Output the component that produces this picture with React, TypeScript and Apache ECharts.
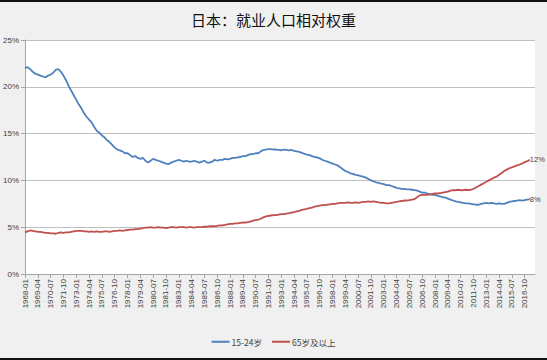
import React, { useEffect, useRef } from "react";
import * as echarts from "echarts";

const TITLE = "日本：就业人口相对权重";
const SERIES_NAMES = ["15-24岁", "65岁及以上"];
const Y_TICKS = [0, 5, 10, 15, 20, 25];

// quarterly categories 1968-01 .. 2017-10
const START_YEAR = 1968;
const QUARTER_MONTHS = ["01", "04", "07", "10"];
const N_CATEGORIES = 200;

// share of employed persons (%), quarterly readings
const youth = [
  22.0, 22.1, 21.9, 21.6, 21.4, 21.3, 21.2, 21.1, 21.0, 21.2,
  21.3, 21.5, 21.8, 21.9, 21.6, 21.2, 20.7, 20.1, 19.6, 19.1,
  18.6, 18.1, 17.7, 17.2, 16.8, 16.5, 16.2, 15.7, 15.3, 15.1,
  14.8, 14.6, 14.3, 14.1, 13.8, 13.5, 13.3, 13.2, 13.1, 12.9,
  12.9, 12.7, 12.5, 12.6, 12.4, 12.3, 12.4, 12.1, 11.9, 12.1,
  12.3, 12.2, 12.1, 12.0, 11.9, 11.8, 11.75, 11.9, 12.0, 12.1,
  12.2, 12.1, 12.0, 12.1, 12.0, 12.0, 12.1, 12.0, 11.9, 12.0,
  12.1, 11.9, 11.9, 12.0, 12.2, 12.1, 12.2, 12.2, 12.3, 12.25,
  12.3, 12.4, 12.4, 12.45, 12.5, 12.6, 12.6, 12.7, 12.8, 12.8,
  12.9, 12.9, 13.1, 13.25, 13.3, 13.35, 13.35, 13.3, 13.3, 13.25,
  13.2, 13.3, 13.25, 13.2, 13.25, 13.15, 13.1, 13.05, 12.95, 12.85,
  12.75, 12.7, 12.6, 12.5, 12.45, 12.35, 12.2, 12.1, 12.0, 11.9,
  11.8, 11.7, 11.6, 11.4, 11.2, 11.0, 10.9, 10.75, 10.7, 10.6,
  10.55, 10.45, 10.4, 10.3, 10.15, 10.0, 9.9, 9.8, 9.75, 9.65,
  9.6, 9.5, 9.5, 9.4, 9.3, 9.2, 9.15, 9.1, 9.1, 9.05,
  9.05, 9.0, 8.95, 8.9, 8.8, 8.7, 8.7, 8.6, 8.5, 8.45,
  8.45, 8.35, 8.3, 8.2, 8.15, 8.05, 7.95, 7.85, 7.75, 7.7,
  7.65, 7.6, 7.55, 7.55, 7.5, 7.45, 7.4, 7.4, 7.5, 7.55,
  7.6, 7.55, 7.6, 7.55, 7.5, 7.55, 7.5, 7.5, 7.6, 7.7,
  7.75, 7.8, 7.85, 7.9, 7.85, 7.9, 7.95, 8.0,
];

const elderly = [
  4.45, 4.55, 4.65, 4.6, 4.55, 4.5, 4.5, 4.45, 4.4, 4.4,
  4.35, 4.35, 4.3, 4.4, 4.45, 4.4, 4.45, 4.45, 4.5, 4.55,
  4.6, 4.6, 4.6, 4.55, 4.55, 4.5, 4.55, 4.5, 4.55, 4.5,
  4.5, 4.55, 4.55, 4.5, 4.55, 4.6, 4.6, 4.65, 4.6, 4.65,
  4.7, 4.75, 4.75, 4.8, 4.8, 4.85, 4.9, 4.95, 4.95, 5.0,
  4.95, 4.95, 5.0, 4.95, 4.95, 4.9, 4.95, 5.0, 5.0, 4.95,
  5.0, 5.0, 5.0, 4.95, 5.0, 5.0, 4.95, 5.0, 5.0, 5.0,
  5.05, 5.05, 5.1, 5.1, 5.1, 5.15, 5.2, 5.2, 5.25, 5.3,
  5.35, 5.35, 5.4, 5.4, 5.45, 5.5, 5.5, 5.55, 5.6, 5.7,
  5.75, 5.8, 5.9, 6.05, 6.15, 6.2, 6.25, 6.3, 6.3, 6.35,
  6.4, 6.4, 6.45, 6.5, 6.55, 6.6, 6.7, 6.75, 6.85, 6.9,
  6.95, 7.05, 7.1, 7.2, 7.25, 7.3, 7.35, 7.35, 7.4, 7.45,
  7.5, 7.5, 7.55, 7.6, 7.6, 7.6, 7.65, 7.6, 7.6, 7.65,
  7.6, 7.65, 7.7, 7.7, 7.75, 7.7, 7.75, 7.7, 7.65, 7.6,
  7.6, 7.55, 7.55, 7.6, 7.65, 7.7, 7.75, 7.8, 7.85, 7.85,
  7.9, 7.95, 8.0, 8.2, 8.4, 8.45, 8.45, 8.45, 8.5, 8.55,
  8.6, 8.6, 8.65, 8.7, 8.75, 8.8, 8.9, 8.95, 8.95, 9.0,
  8.95, 8.95, 9.0, 8.95, 9.0, 9.1, 9.25, 9.4, 9.55, 9.7,
  9.85, 10.0, 10.15, 10.3, 10.4, 10.6, 10.8, 11.0, 11.15, 11.3,
  11.4, 11.5, 11.6, 11.7, 11.8, 11.95, 12.05, 12.2,
];
const END_LABELS = ["8%", "12%"];

const COLORS = ["#4F81BD", "#C0504D"];

const categories: string[] = [];
for (let i = 0; i < N_CATEGORIES; i++) {
  const y = START_YEAR + Math.floor(i / 4);
  categories.push(`${y}-${QUARTER_MONTHS[i % 4]}`);
}

export default function App() {
  const ref = useRef<HTMLDivElement>(null);
  useEffect(() => {
    if (!ref.current) return;
    const chart = echarts.init(ref.current, null, { renderer: "svg" });
    const font = "Liberation Sans, Arial, 'Noto Sans CJK SC', sans-serif";
    const endLabel = (text: string) => ({
      show: true,
      distance: 0,
      formatter: text,
      color: "#404040",
      fontSize: 7.5,
      fontFamily: font,
    });
    chart.setOption({
      animation: false,
      backgroundColor: "#f0f0f0",
      textStyle: { fontFamily: font },
      title: {
        text: TITLE,
        left: "center",
        top: 7,
        textStyle: {
          fontFamily: "'Noto Sans CJK SC', sans-serif",
          fontSize: 15,
          fontWeight: "normal",
          color: "#111",
        },
      },
      graphic: [
        { type: "rect", shape: { x: 0, y: 0, width: 547, height: 2 }, style: { fill: "#111" } },
        { type: "rect", shape: { x: 0, y: 358, width: 547, height: 2 }, style: { fill: "#111" } },
      ],
      legend: {
        bottom: 9,
        left: "center",
        icon: "rect",
        itemWidth: 18,
        itemHeight: 2,
        itemGap: 10,
        textStyle: {
          fontSize: 8.5,
          color: "#404040",
          padding: [0, 0, 0, -3],
          fontFamily: "'Noto Sans CJK SC', sans-serif",
        },
        data: SERIES_NAMES,
      },
      grid: {
        left: 25,
        top: 40,
        right: 12,
        bottom: 86,
        show: true,
        backgroundColor: "#ffffff",
        borderWidth: 0,
      },
      xAxis: {
        type: "category",
        data: categories,
        boundaryGap: false,
        axisLine: { lineStyle: { color: "#a6a6a6", width: 1 } },
        axisTick: { show: true, interval: 4, length: 4, lineStyle: { color: "#a6a6a6" } },
        axisLabel: {
          interval: 4,
          rotate: 90,
          fontSize: 8,
          color: "#404040",
          margin: 5,
          fontFamily: font,
        },
        splitLine: { show: false },
      },
      yAxis: {
        type: "value",
        min: 0,
        max: 25,
        interval: 5,
        axisLine: { show: true, lineStyle: { color: "#a6a6a6", width: 1 } },
        axisTick: { show: true, length: 4, lineStyle: { color: "#a6a6a6" } },
        axisLabel: {
          formatter: (v: number) => (Y_TICKS.includes(v) ? `${v}%` : ""),
          fontSize: 8,
          color: "#404040",
          margin: 6,
          fontFamily: font,
        },
        splitLine: { lineStyle: { color: "#bfbfbf", width: 1 } },
      },
      series: [
        {
          name: SERIES_NAMES[0],
          type: "line",
          data: youth,
          symbol: "none",
          endLabel: endLabel(END_LABELS[0]),
          lineStyle: { color: COLORS[0], width: 1.8 },
          itemStyle: { color: COLORS[0] },
        },
        {
          name: SERIES_NAMES[1],
          type: "line",
          data: elderly,
          symbol: "none",
          endLabel: endLabel(END_LABELS[1]),
          lineStyle: { color: COLORS[1], width: 1.8 },
          itemStyle: { color: COLORS[1] },
        },
      ],
    });
    return () => chart.dispose();
  }, []);
  return (
    <div
      ref={ref}
      style={{ position: "fixed", left: 0, top: 0, width: 547, height: 360 }}
    />
  );
}
